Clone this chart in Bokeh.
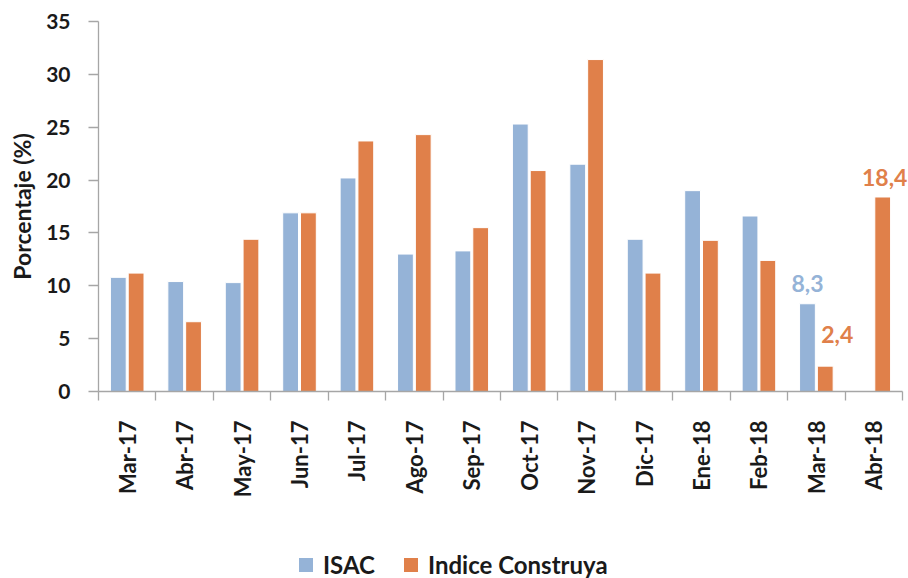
import numpy as np
from bokeh.plotting import figure
from bokeh.layouts import column
from bokeh.models import ColumnDataSource, Range1d, FixedTicker, Legend, LegendItem, LinearAxis
from bokeh.transform import dodge
from bokeh.core.properties import value
from bokeh.embed import file_html
from bokeh.resources import INLINE

months = ["Mar-17", "Abr-17", "May-17", "Jun-17", "Jul-17", "Ago-17", "Sep-17",
          "Oct-17", "Nov-17", "Dic-17", "Ene-18", "Feb-18", "Mar-18", "Abr-18"]
isac = [10.8, 10.4, 10.3, 16.9, 20.2, 13.0, 13.3, 25.3, 21.5, 14.4, 19.0, 16.6, 8.3, None]
construya = [11.2, 6.6, 14.4, 16.9, 23.7, 24.3, 15.5, 20.9, 31.4, 11.2, 14.3, 12.4, 2.4, 18.4]
y_ticks = [0, 5, 10, 15, 20, 25, 30, 35]

# labelled points
isac_label_months = ["Mar-18"]
construya_label_months = ["Mar-18", "Abr-18"]

BLUE = "#95b3d7"
ORANGE = "#e0804a"
GRAY = "#a6a6a6"
TXT = "#1a1a1a"
FONT = "Lato"

n = len(months)
centers = [i + 0.5 for i in range(n)]
idx = {m: c for m, c in zip(months, centers)}

src_isac = ColumnDataSource(dict(x=[c for c, v in zip(centers, isac) if v is not None],
                                 top=[v for v in isac if v is not None]))
src_con = ColumnDataSource(dict(x=centers, top=construya))

# frame: 804 px for the 14 months, plus 6 px of room on the right for the last label
AXIS_PX = 804
EXTRA_PX = 6
p = figure(width=908, height=500, output_backend="svg", toolbar_location=None,
           x_range=Range1d(0, n * (AXIS_PX + EXTRA_PX) / AXIS_PX), y_range=Range1d(0, 35),
           x_axis_location=None, y_axis_location=None,
           min_border_left=98, min_border_right=0, min_border_top=21, min_border_bottom=105)
p.outline_line_color = None
p.grid.grid_line_color = None
p.background_fill_color = None
p.border_fill_color = "white"

off = 0.155
bw = 0.275
r1 = p.vbar(x=dodge("x", -off), top="top", width=bw, source=src_isac,
            fill_color=BLUE, line_color="white", line_width=1)
r2 = p.vbar(x=dodge("x", off), top="top", width=bw, source=src_con,
            fill_color=ORANGE, line_color="white", line_width=1)

# value labels
lab_i = ColumnDataSource(dict(
    x=[idx[m] for m in isac_label_months],
    y=[isac[months.index(m)] for m in isac_label_months],
    t=[f"{isac[months.index(m)]:.1f}".replace(".", ",") for m in isac_label_months],
    xo=[0], yo=[-20]))
lab_c = ColumnDataSource(dict(
    x=[idx[m] for m in construya_label_months],
    y=[construya[months.index(m)] for m in construya_label_months],
    t=[f"{construya[months.index(m)]:.1f}".replace(".", ",") for m in construya_label_months],
    xo=[12, 2], yo=[-32, -19]))
p.text(x=dodge("x", -off), y="y", text="t", x_offset="xo", y_offset="yo", source=lab_i,
       text_color=BLUE, text_font=value(FONT), text_font_style="bold",
       text_font_size="23px", text_align="center", text_baseline="alphabetic")
p.text(x=dodge("x", off), y="y", text="t", x_offset="xo", y_offset="yo", source=lab_c,
       text_color=ORANGE, text_font=value(FONT), text_font_style="bold",
       text_font_size="23px", text_align="center", text_baseline="alphabetic")

# y axis
yax = LinearAxis(ticker=FixedTicker(ticks=y_ticks, minor_ticks=[]),
                 axis_label="Porcentaje (%)")
yax.axis_line_color = GRAY
yax.axis_line_width = 1.3
yax.major_tick_line_color = GRAY
yax.major_tick_line_width = 1.3
yax.major_tick_out = 10
yax.major_tick_in = 0
yax.minor_tick_line_color = None
yax.major_label_text_font = FONT
yax.major_label_text_font_style = "bold"
yax.major_label_text_font_size = "21px"
yax.major_label_text_color = TXT
yax.major_label_standoff = 18
yax.axis_label_text_font = FONT
yax.axis_label_text_font_style = "bold"
yax.axis_label_text_font_size = "23px"
yax.axis_label_text_color = TXT
yax.axis_label_standoff = 7
p.add_layout(yax, "left")

# x axis: labels at centres, tick marks at boundaries
xax = LinearAxis(ticker=FixedTicker(ticks=centers, minor_ticks=list(range(n + 1))),
                 bounds=(0, n))
xax.major_label_overrides = {c: m for c, m in zip(centers, months)}
xax.axis_line_color = GRAY
xax.axis_line_width = 1.3
xax.major_tick_line_color = None
xax.major_tick_out = 0
xax.major_tick_in = 0
xax.minor_tick_line_color = GRAY
xax.minor_tick_line_width = 1.3
xax.minor_tick_out = 9
xax.minor_tick_in = 0
xax.major_label_orientation = np.pi / 2
xax.major_label_text_font = FONT
xax.major_label_text_font_style = "bold"
xax.major_label_text_font_size = "22px"
xax.major_label_text_color = TXT
xax.major_label_standoff = 20
p.add_layout(xax, "below")

# legend strip (hidden square markers on the same data supply the legend swatches)
q = figure(width=908, height=78, output_backend="svg", toolbar_location=None,
           x_range=p.x_range, y_range=p.y_range,
           x_axis_location=None, y_axis_location=None,
           min_border_left=0, min_border_right=0, min_border_top=0, min_border_bottom=0)
q.outline_line_color = None
q.grid.grid_line_color = None
q.background_fill_color = None
q.border_fill_color = "white"
k1 = q.scatter(x=dodge("x", -off), y="top", marker="square", size=14, source=src_isac,
               visible=False, fill_color=BLUE, line_color=None)
k2 = q.scatter(x=dodge("x", off), y="top", marker="square", size=14, source=src_con,
               visible=False, fill_color=ORANGE, line_color=None)

legend = Legend(items=[LegendItem(label="ISAC", renderers=[k1]),
                       LegendItem(label="Indice Construya", renderers=[k2])],
                orientation="horizontal", location=(190, -4))
legend.label_text_font = FONT
legend.label_text_font_style = "bold"
legend.label_text_font_size = "24px"
legend.label_text_color = TXT
legend.glyph_width = 35
legend.glyph_height = 35
legend.label_standoff = -5
legend.spacing = 18
legend.padding = 0
legend.margin = 0
legend.border_line_color = None
legend.background_fill_color = None
legend.click_policy = "none"
q.add_layout(legend, "center")

layout = column(p, q, spacing=0)
open("out.html", "w").write(file_html(layout, INLINE))
